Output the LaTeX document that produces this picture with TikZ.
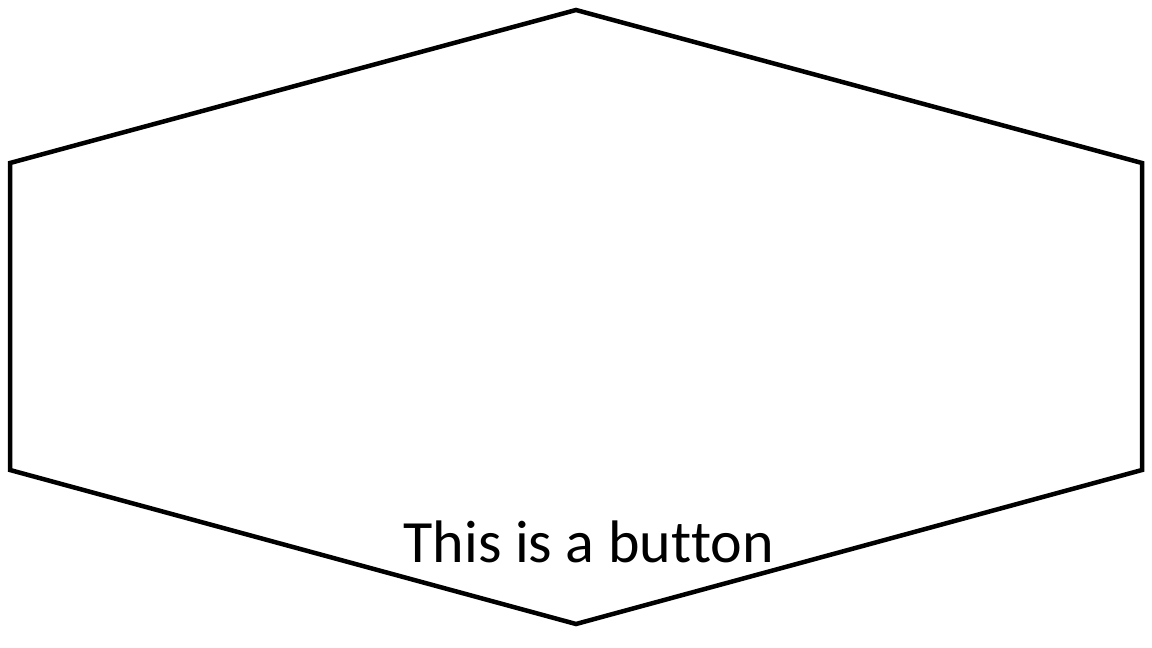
\documentclass[tikz,border=0pt]{standalone}
\usepackage{fontspec}
\setmainfont[Ligatures={NoCommon,TeX}]{Carlito}
\begin{document}
\begin{tikzpicture}[x=1pt,y=-1pt,
  hexline/.style={draw=black,line width=4.5pt,line join=miter},
  lbl/.style={font=\fontsize{60}{72}\selectfont,inner sep=0pt,anchor=base}]
\useasboundingbox (0,0) rectangle (1152,648);
\coordinate (top) at (576,10);
\coordinate (tr) at (1142,163);
\coordinate (br) at (1142,470);
\coordinate (bot) at (576,624);
\coordinate (bl) at (10,470);
\coordinate (tl) at (10,163);
\draw[hexline] (top) -- (tr) -- (br) -- (bot) -- (bl) -- (tl) -- cycle;
\node[lbl] (label) at (589,562) {This is a but\kern0pt ton};
\end{tikzpicture}
\end{document}
